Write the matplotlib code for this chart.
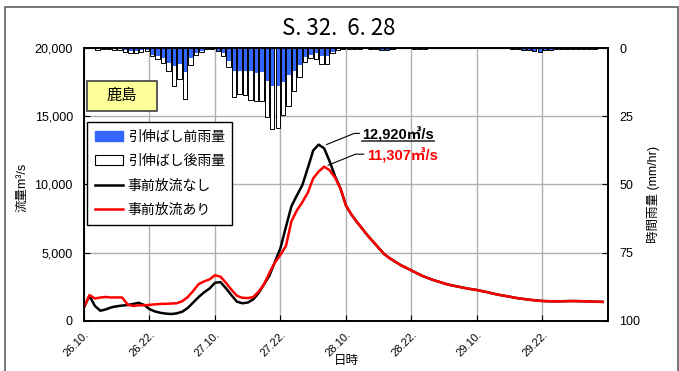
import numpy as np
import matplotlib
matplotlib.use('Agg')
import matplotlib.pyplot as plt
from matplotlib.patches import Patch, Rectangle
from matplotlib.lines import Line2D
from matplotlib.text import Text
from matplotlib.ticker import StrMethodFormatter

plt.rcParams['font.family'] = ['Liberation Sans', 'Noto Sans CJK JP']

# hourly discharge (m3/s), hour 0 = 26th 10:00
q_with = [1000, 1900, 1650, 1720, 1760, 1720, 1730, 1720, 1200, 1100,
          1150, 1150, 1180, 1220, 1250, 1260, 1280, 1300, 1450, 1750,
          2200, 2700, 2900, 3050, 3350, 3250, 2800, 2300, 1850, 1700,
          1680, 1750, 2150, 2700, 3550, 4300, 4850, 5500, 7300, 8100,
          8700, 9400, 10450, 10950, 11307, 11050, 10500, 9700, 8450, 7800,
          7250, 6750, 6250, 5800, 5350, 4900, 4600, 4350, 4100, 3900,
          3700, 3500, 3300, 3150, 3000, 2880, 2750, 2640, 2560, 2480,
          2400, 2330, 2270, 2180, 2100, 2000, 1920, 1850, 1780, 1700,
          1640, 1590, 1540, 1500, 1465, 1450, 1440, 1440, 1450, 1460,
          1460, 1450, 1440, 1420, 1410, 1400]
# without pre-release: differs until it merges at hour 47
q_no_head = [1000, 1850, 1100, 750, 850, 1000, 1080, 1130, 1170, 1250,
             1330, 1180, 870, 700, 600, 540, 510, 560, 680, 950,
             1350, 1750, 2100, 2380, 2800, 2850, 2400, 1900, 1420, 1300,
             1350, 1580, 2050, 2700, 3350, 4350, 5350, 6900, 8400, 9200,
             9950, 11200, 12500, 12920, 12650, 11700, 10600]

# hourly rainfall (mm/hr) for hours 3..96
rain_after = [0.7, 0.5, 0.5, 0.6, 0.9, 1.6, 1.8, 1.8, 1.6, 1.2,
              3.1, 4.0, 5.5, 8.5, 13.8, 11.2, 18.7, 6.3, 2.4, 1.5,
              0.5, 0.4, 1.2, 3.1, 7.1, 17.9, 16.8, 17.1, 18.9, 19.3,
              19.4, 25.2, 29.5, 29.3, 24.6, 21.3, 15.9, 10.7, 5.2, 3.6,
              4.1, 5.7, 6.0, 1.9, 0.7, 0.4, 0.3, 0.3, 0.2, 0.0,
              0.3, 0.3, 0.7, 0.8, 0.4, 0.0, 0.0, 0.0, 0.3, 0.3,
              0.3, 0.0, 0.0, 0.1, 0.1, 0.1, 0.1, 0.1, 0.1, 0.0,
              0.0, 0.0, 0.0, 0.0, 0.0, 0.0, 0.3, 0.3, 0.8, 0.8,
              1.0, 1.6, 0.9, 0.8, 0.4, 0.4, 0.5, 0.5, 0.3, 0.3,
              0.3, 0.3, 0.0, 0.0]
rain_before = [0.3, 0.3, 0.3, 0.4, 0.5, 0.9, 1.0, 1.0, 0.9, 0.7,
               2.4, 3.1, 3.8, 5.5, 6.7, 5.7, 8.9, 3.7, 1.8, 1.2,
               0.3, 0.3, 1.0, 1.8, 4.9, 8.3, 8.3, 8.3, 8.3, 9.2,
               8.7, 12.2, 14.0, 14.0, 12.3, 9.9, 8.3, 6.1, 3.3, 2.4,
               1.8, 3.1, 3.0, 1.3, 0.5, 0.3, 0.3, 0.3, 0.2, 0.0,
               0.3, 0.3, 0.7, 0.8, 0.4, 0.0, 0.0, 0.0, 0.3, 0.3,
               0.3, 0.0, 0.0, 0.1, 0.1, 0.1, 0.1, 0.1, 0.1, 0.0,
               0.0, 0.0, 0.0, 0.0, 0.0, 0.0, 0.3, 0.3, 0.8, 0.8,
               1.0, 1.6, 0.9, 0.8, 0.4, 0.4, 0.5, 0.5, 0.3, 0.3,
               0.3, 0.3, 0.0, 0.0]

tick_labels = ['26.10.', '26.22.', '27.10.', '27.22.',
               '28.10.', '28.22.', '29.10.', '29.22.']

hours = np.arange(len(q_with))
q_no = np.concatenate([q_no_head, q_with[len(q_no_head):]])
rain_x = np.arange(3, 3 + len(rain_after)) - 0.5

blue = '#3366ff'

fig = plt.figure(figsize=(6.79, 3.71), dpi=100)
ax = fig.add_axes([0.1237, 0.1348, 0.7717, 0.7358])
ax2 = ax.twinx()

# flow lines
ax.plot(hours, q_no, color='black', lw=1.8, zorder=3)
ax.plot(hours, q_with, color='red', lw=1.8, zorder=4)
ax.set_xlim(0, 96)
ax.set_ylim(0, 20000)
ax.set_yticks(np.arange(0, 20001, 5000))
ax.yaxis.set_major_formatter(StrMethodFormatter('{x:,.0f}'))
ax.set_xticks(np.arange(0, 96, 12))
ax.set_xticklabels(tick_labels, fontsize=8, rotation=45, ha='right',
                   va='top', rotation_mode='anchor')
ax.grid(True, color='#b0b0b0', lw=1)
ax.set_axisbelow(True)
ax.tick_params(axis='y', direction='in', length=4, labelsize=9, pad=8)
ax.tick_params(axis='x', direction='in', length=4, pad=6)
for s in ax.spines.values():
    s.set_linewidth(1.2)

# rainfall bars (inverted axis)
ax2.bar(rain_x, rain_after, width=0.8, color='white', edgecolor='none', zorder=2)
ax2.bar(rain_x, rain_before, width=0.8, color=blue, edgecolor='none', zorder=3)
ax2.bar(rain_x, rain_after, width=0.8, facecolor='none', edgecolor='black',
        lw=0.7, zorder=4)
ax2.set_ylim(100, 0)
ax2.set_yticks(np.arange(0, 101, 25))
ax2.tick_params(axis='y', direction='in', length=4, labelsize=9, pad=8)
for s in ax2.spines.values():
    s.set_linewidth(1.2)

ax.set_ylabel('流量m³/s', fontsize=9)
ax.yaxis.set_label_coords(-0.107, 0.49)
ax2.set_ylabel('時間雨量 (mm/hr)', fontsize=9)
ax2.yaxis.set_label_coords(1.074, 0.465)
ax.set_xlabel('日時', fontsize=9)
ax.xaxis.set_label_coords(0.5, -0.125)

# peak annotations
i_no = int(np.argmax(q_no))
i_with = int(np.argmax(q_with))
t_no = ax.annotate(f'{q_no[i_no]:,.0f}㎥/s', xy=(hours[i_no] + 1.4, q_no[i_no]),
                   xytext=(51.0, 13630), fontsize=10.5, fontweight='bold',
                   color='black', va='center', ha='left',
                   arrowprops=dict(arrowstyle='-', color='black', lw=0.8,
                                   shrinkA=0, shrinkB=0, relpos=(0, 0.6),
                                   connectionstyle='angle,angleA=0,angleB=22,rad=0'))
t_with = ax.annotate(f'{q_with[i_with]:,.0f}㎥/s', xy=(hours[i_with] + 0.7, q_with[i_with] + 100),
                     xytext=(51.8, 12110), fontsize=10.5, fontweight='bold',
                     color='red', va='center', ha='left',
                     arrowprops=dict(arrowstyle='-', color='black', lw=0.8,
                                     shrinkA=0, shrinkB=0, relpos=(0, 0.6),
                                     connectionstyle='angle,angleA=0,angleB=22,rad=0'))

# station box
ax2.add_patch(Rectangle((0.0063, 0.770), 0.1324, 0.110, transform=ax2.transAxes,
                        facecolor='#ffff99', edgecolor='#404040', lw=1.2, zorder=6))
ax2.text(0.0725, 0.825, '鹿島', transform=ax2.transAxes, ha='center', va='center',
         fontsize=11, family=['Noto Sans CJK JP'], zorder=7)

# legend
handles = [Patch(facecolor=blue, edgecolor=blue),
           Patch(facecolor='white', edgecolor='black', lw=0.8),
           Line2D([], [], color='black', lw=1.8),
           Line2D([], [], color='red', lw=1.8)]
labels = ['引伸ばし前雨量', '引伸ばし後雨量', '事前放流なし', '事前放流あり']
leg = ax2.legend(handles, labels, loc='upper left', bbox_to_anchor=(0.0063, 0.729),
                 borderaxespad=0, fancybox=False, framealpha=1, edgecolor='black',
                 handlelength=2.0, handletextpad=0.35,
                 labelspacing=0.75, borderpad=0.55,
                 prop={'family': ['Noto Sans CJK JP'], 'size': 10})
leg.get_frame().set_linewidth(1.0)
leg.set_zorder(8)

fig.text(0.4993, 0.9245, 'S. 32.  6. 28', ha='center', va='center', fontsize=16,
         family=['Noto Sans CJK JP'])

# outer frame
fig.patches.append(Rectangle((5 / 679, -0.02), 673 / 679, 364 / 371 + 0.02,
                             transform=fig.transFigure, fill=False,
                             edgecolor='#606060', lw=1.2))

# underline for the larger peak label (text box only, not the leader)
fig.canvas.draw()
renderer = fig.canvas.get_renderer()
bb = Text.get_window_extent(t_no, renderer).transformed(fig.transFigure.inverted())
fig.add_artist(Line2D([bb.x0, bb.x1], [bb.y0 + 0.004, bb.y0 + 0.004],
                      transform=fig.transFigure, color='#333333', lw=1.2))

fig.savefig('out.png', dpi=100)
